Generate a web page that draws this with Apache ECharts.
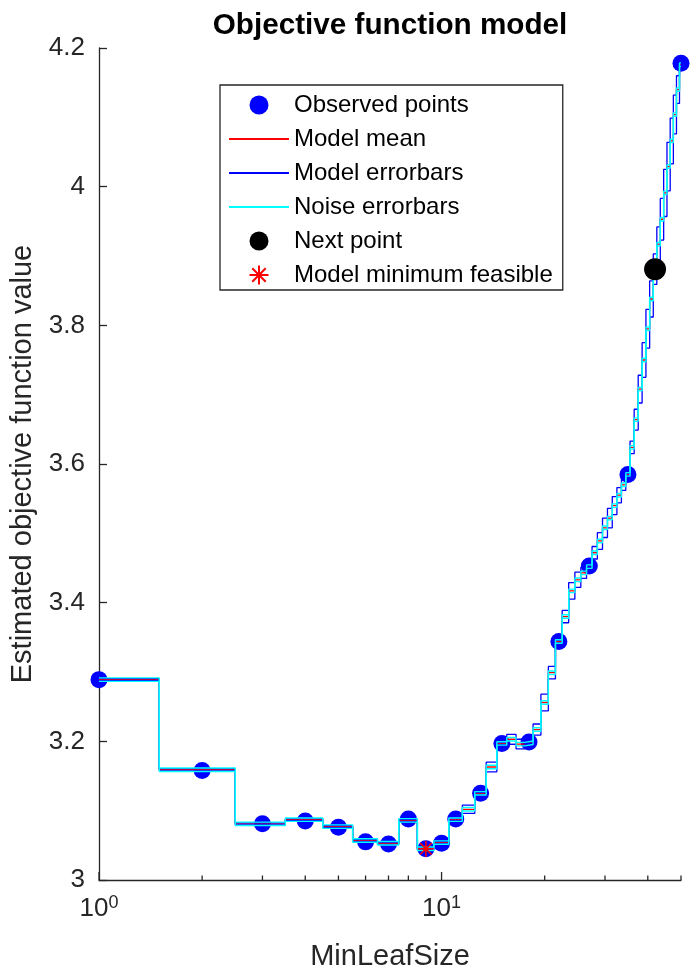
<!DOCTYPE html>
<html><head><meta charset="utf-8">
<script src="https://cdn.jsdelivr.net/npm/echarts@6/dist/echarts.min.js"></script>
<style>html,body{margin:0;padding:0;background:#fff}#c{width:690px;height:976px}</style>
</head><body><div id="c"></div>
<script>
// MinLeafSize grid evaluated by the model (integers 1..50)
const gridX = [1,2,3,4,5,6,7,8,9,10,11,12,13,14,15,16,17,18,19,20,21,22,23,24,25,26,27,28,29,30,31,32,33,34,35,36,37,38,39,40,41,42,43,44,45,46,47,48,49,50];
// model mean at each grid value
const modelMean = [3.289,3.159,3.081,3.087,3.077,3.057,3.053,3.086,3.045,3.054,3.087,3.102,3.125,3.163,3.197,3.203,3.196,3.198,3.217,3.256,3.299,3.344,3.380,3.417,3.433,3.443,3.452,3.472,3.489,3.508,3.522,3.540,3.555,3.570,3.585,3.624,3.664,3.708,3.750,3.795,3.838,3.881,3.917,3.953,3.991,4.029,4.066,4.104,4.140,4.176];
// model standard deviation (half width of model errorbars)
const modelSD = [0.0015,0.0015,0.0015,0.0015,0.0015,0.0015,0.0015,0.0015,0.0015,0.0015,0.0015,0.006,0.0015,0.007,0.0015,0.007,0.007,0.0015,0.008,0.012,0.009,0.0015,0.009,0.012,0.011,0.008,0.0015,0.009,0.012,0.014,0.014,0.013,0.011,0.008,0.0015,0.009,0.015,0.020,0.025,0.028,0.026,0.022,0.025,0.030,0.034,0.035,0.033,0.028,0.020,0.0015];
// noise standard deviation (half width of noise errorbars)
const noiseSD = [0.0025];
// observed points
const observedX = [1,2,3,4,5,6,7,8,9,10,11,13,15,18,22,27,35,50];
const observedY = [3.289,3.158,3.081,3.085,3.076,3.055,3.052,3.088,3.045,3.053,3.088,3.125,3.197,3.199,3.344,3.453,3.585,4.178];
// next point and model minimum
const nextX = [42];
const nextY = [3.881];
const minX = [9];
const minY = [3.045];
// axis ticks
const yTicks = [3, 3.2, 3.4, 3.6, 3.8, 4, 4.2];
const xMajorTicks = [1, 10];
const xMinorTicks = [2,3,4,5,6,7,8,9,20,30,40,50];

const AX = '#262626';
const FONT = '"Liberation Sans", Arial, Helvetica, sans-serif';

function steps(vals) {
  const out = [];
  gridX.forEach((k, i) => {
    const l = i === 0 ? k : k - 0.5;
    const r = i === gridX.length - 1 ? k : k + 0.5;
    out.push([l, vals[i]], [r, vals[i]]);
  });
  return out;
}
const nsd = i => noiseSD[0];
const meanSteps = steps(modelMean);
const modelUp = steps(modelMean.map((m, i) => m + modelSD[i]));
const modelLo = steps(modelMean.map((m, i) => m - modelSD[i]));
const noiseUp = steps(modelMean.map((m, i) => m + nsd(i)));
const noiseLo = steps(modelMean.map((m, i) => m - nsd(i)));

const lineBase = { type: 'line', symbol: 'none', showSymbol: false, animation: false, silent: true };
const ast = 'path://M10,0L10,20M0,10L20,10M2.93,2.93L17.07,17.07M2.93,17.07L17.07,2.93';
const hideSym = { color: 'rgba(0,0,0,0)', borderColor: 'rgba(0,0,0,0)', borderWidth: 0 };

const chart = echarts.init(document.getElementById('c'), null, { renderer: 'canvas' });
chart.setOption({
  animation: false,
  backgroundColor: '#fff',
  textStyle: { fontFamily: FONT },
  title: {
    text: 'Objective function model', left: 385, top: 6, textAlign: 'center',
    textStyle: { fontFamily: FONT, fontSize: 29.7, fontWeight: 'bold', color: '#000' }
  },
  grid: { left: 99, right: 9, top: 48, bottom: 93, containLabel: false },
  legend: {
    left: 220, top: 85, orient: 'vertical',
    padding: [8, 10, 3, 8], itemGap: 10, itemWidth: 60, itemHeight: 19,
    borderColor: AX, borderWidth: 1.3, backgroundColor: '#fff',
    textStyle: { fontFamily: FONT, fontSize: 24, color: '#000' },
    selectedMode: false,
    data: [
      { name: 'Observed points' },
      { name: 'Model mean', itemStyle: hideSym },
      { name: 'Model errorbars', itemStyle: hideSym },
      { name: 'Noise errorbars', itemStyle: hideSym },
      { name: 'Next point' },
      { name: 'Model minimum feasible' }
    ]
  },
  xAxis: {
    type: 'log', logBase: 10, min: 1, max: 50,
    name: 'MinLeafSize', nameLocation: 'middle', nameGap: 62,
    nameTextStyle: { fontFamily: FONT, fontSize: 29, color: AX },
    axisLine: { show: true, lineStyle: { color: AX, width: 1.3 } },
    axisTick: { show: false },
    splitLine: { show: false },
    minorTick: { show: false },
    axisLabel: {
      margin: 14, color: AX,
      formatter: v => {
        const e = Math.log10(v);
        if (Math.abs(e - Math.round(e)) > 1e-9) return '';
        return '{b|10}{s|' + Math.round(e) + '}';
      },
      rich: {
        b: { fontFamily: FONT, fontSize: 26, color: AX, lineHeight: 30 },
        s: { fontFamily: FONT, fontSize: 18, color: AX, verticalAlign: 'top', lineHeight: 18 }
      }
    }
  },
  yAxis: {
    type: 'value', min: 3, max: 4.2, interval: 0.2,
    name: 'Estimated objective function value', nameLocation: 'middle', nameGap: 51, nameRotate: 90,
    nameTextStyle: { fontFamily: FONT, fontSize: 29, color: AX },
    axisLine: { show: true, lineStyle: { color: AX, width: 1.3 } },
    axisTick: { show: true, inside: true, length: 8, lineStyle: { color: AX, width: 1.3 } },
    splitLine: { show: false },
    axisLabel: { margin: 14, fontSize: 26, color: AX, fontFamily: FONT,
      formatter: v => yTicks.some(t => Math.abs(t - v) < 1e-9) ? String(+v.toFixed(1)) : '' }
  },
  series: [
    { type: 'scatter', name: 'xMajorTicks', silent: true, z: 1, symbol: 'rect', symbolSize: [1.3, 8], symbolOffset: [0, -4],
      itemStyle: { color: AX, opacity: 1 }, data: xMajorTicks.map(x => [x, yTicks[0]]) },
    { type: 'scatter', name: 'xMinorTicks', silent: true, z: 1, symbol: 'rect', symbolSize: [1.3, 4.5], symbolOffset: [0, -2.25],
      itemStyle: { color: AX, opacity: 1 }, data: xMinorTicks.map(x => [x, yTicks[0]]) },
    { type: 'scatter', name: 'Observed points', symbol: 'circle', symbolSize: 17, z: 2, silent: true,
      itemStyle: { color: '#0000ff', opacity: 1 }, data: observedX.map((x, i) => [x, observedY[i]]) },
    Object.assign({}, lineBase, { name: 'Model mean', z: 3, lineStyle: { color: '#ff0000', width: 1.3 }, itemStyle: { color: '#ff0000' }, data: meanSteps }),
    Object.assign({}, lineBase, { name: 'Model errorbars', z: 4, lineStyle: { color: '#0000ff', width: 1.3 }, itemStyle: { color: '#0000ff' }, data: modelUp }),
    Object.assign({}, lineBase, { name: 'Model errorbars', z: 4, lineStyle: { color: '#0000ff', width: 1.3 }, itemStyle: { color: '#0000ff' }, data: modelLo }),
    Object.assign({}, lineBase, { name: 'Noise errorbars', z: 5, lineStyle: { color: '#00ffff', width: 1.4 }, itemStyle: { color: '#00ffff' }, data: noiseUp }),
    Object.assign({}, lineBase, { name: 'Noise errorbars', z: 5, lineStyle: { color: '#00ffff', width: 1.4 }, itemStyle: { color: '#00ffff' }, data: noiseLo }),
    { type: 'scatter', name: 'Next point', symbol: 'circle', symbolSize: 22, z: 6, silent: true,
      itemStyle: { color: '#000', opacity: 1 }, data: nextX.map((x, i) => [x, nextY[i]]) },
    { type: 'scatter', name: 'Model minimum feasible', symbol: ast, symbolSize: 16, z: 7, silent: true,
      itemStyle: { color: 'rgba(0,0,0,0)', borderColor: '#ff0000', borderWidth: 1.6, opacity: 1 }, data: minX.map((x, i) => [x, minY[i]]) }
  ]
});
</script></body></html>
